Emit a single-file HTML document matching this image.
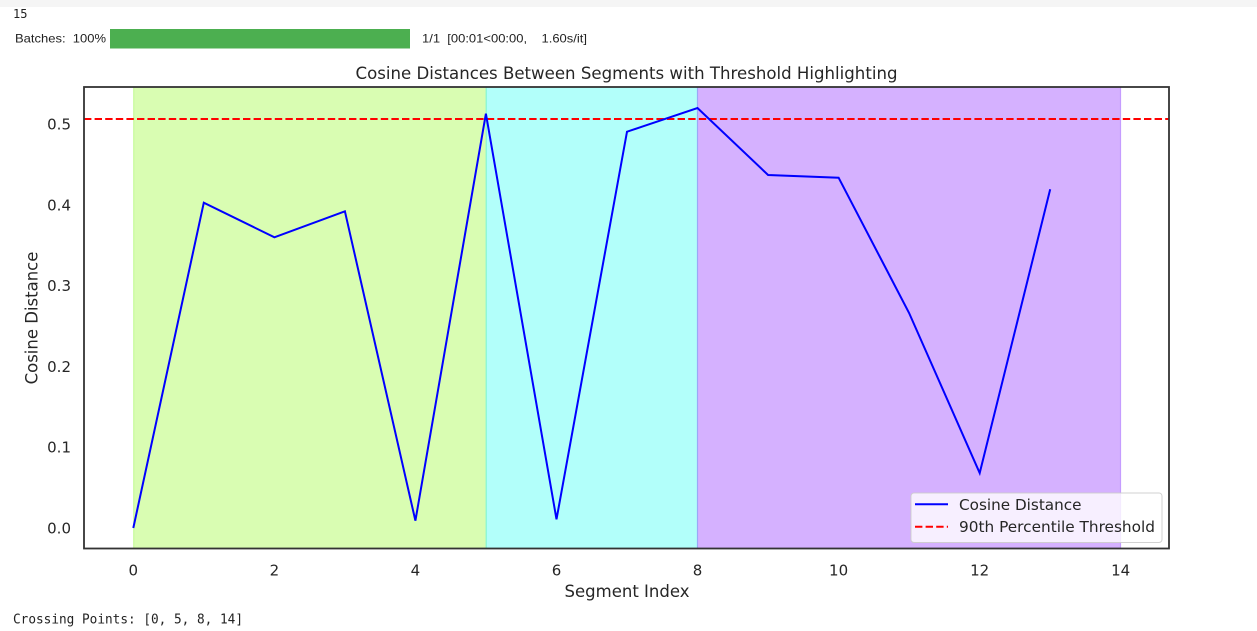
<!DOCTYPE html>
<html>
<head>
<meta charset="utf-8">
<style>
html,body{margin:0;padding:0;background:#fff;}
svg{display:block;}
text{white-space:pre;}
</style>
</head>
<body>
<svg width="1257" height="631" viewBox="0 0 1257 631" xmlns="http://www.w3.org/2000/svg">
  <rect x="0" y="0" width="1257" height="631" fill="#ffffff"/>
  <rect x="0" y="0" width="1257" height="7" fill="#f5f5f5"/>

  <!-- header output -->
  <text x="13" y="18" font-family="DejaVu Sans Mono, Liberation Mono, monospace" font-size="12" fill="#222">15</text>
  <text x="15" y="42.5" font-family="Liberation Sans, Arial, sans-serif" font-size="12" fill="#222" textLength="91" lengthAdjust="spacingAndGlyphs">Batches:  100%</text>
  <rect x="110" y="29" width="300" height="19.5" fill="#4caf50"/>
  <text x="422" y="42.5" font-family="Liberation Sans, Arial, sans-serif" font-size="12" fill="#222" textLength="165" lengthAdjust="spacingAndGlyphs">1/1  [00:01&lt;00:00,    1.60s/it]</text>

  <!-- title -->
  <text x="626.5" y="79" text-anchor="middle" font-family="DejaVu Sans, Liberation Sans, sans-serif" font-size="16.5" fill="#262626" textLength="542" lengthAdjust="spacingAndGlyphs">Cosine Distances Between Segments with Threshold Highlighting</text>

  <!-- spans -->
  <rect x="133.3" y="87" width="352.6" height="461.5" fill="#d9fdb2"/>
  <rect x="485.9" y="87" width="211.6" height="461.5" fill="#b2fffa"/>
  <rect x="697.5" y="87" width="423.2" height="461.5" fill="#d5b1ff"/>
  <line x1="133.8" y1="87" x2="133.8" y2="548.5" stroke="#c3fa95" stroke-width="1"/>
  <line x1="486.2" y1="87" x2="486.2" y2="548.5" stroke="#86f5cf" stroke-width="1.2"/>
  <line x1="697.5" y1="87" x2="697.5" y2="548.5" stroke="#9aa8f5" stroke-width="1.2"/>
  <line x1="1120.5" y1="87" x2="1120.5" y2="548.5" stroke="#c59cff" stroke-width="1.2"/>

  <!-- threshold -->
  <line x1="84" y1="119" x2="1169" y2="119" stroke="#ff0000" stroke-width="2" stroke-dasharray="7.4,3.2"/>

  <!-- data line -->
  <polyline fill="none" stroke="#0000ff" stroke-width="2" stroke-linejoin="miter" stroke-linecap="butt"
    points="133.3,528 203.8,202.7 274.4,237.3 344.9,211.3 415.4,520.7 485.9,113.7 556.5,519.3 627.0,131.7 697.5,108 768.1,175 838.6,177.7 909.1,313 979.7,473 1050.2,189.3"/>

  <!-- frame -->
  <rect x="84" y="87" width="1085" height="461.5" fill="none" stroke="#333333" stroke-width="1.8"/>

  <!-- y ticks -->
  <g font-family="DejaVu Sans, Liberation Sans, sans-serif" font-size="15" fill="#262626" text-anchor="end">
    <text x="71" y="129.5">0.5</text>
    <text x="71" y="210.3">0.4</text>
    <text x="71" y="291.1">0.3</text>
    <text x="71" y="371.9">0.2</text>
    <text x="71" y="452.7">0.1</text>
    <text x="71" y="533.5">0.0</text>
  </g>

  <!-- x ticks -->
  <g font-family="DejaVu Sans, Liberation Sans, sans-serif" font-size="15" fill="#262626" text-anchor="middle">
    <text x="133.3" y="575.5">0</text>
    <text x="274.4" y="575.5">2</text>
    <text x="415.4" y="575.5">4</text>
    <text x="556.5" y="575.5">6</text>
    <text x="697.5" y="575.5">8</text>
    <text x="838.6" y="575.5">10</text>
    <text x="979.7" y="575.5">12</text>
    <text x="1120.7" y="575.5">14</text>
  </g>

  <!-- axis labels -->
  <text x="627" y="597" text-anchor="middle" font-family="DejaVu Sans, Liberation Sans, sans-serif" font-size="16.5" fill="#262626" textLength="125" lengthAdjust="spacingAndGlyphs">Segment Index</text>
  <text transform="translate(37.5,318) rotate(-90)" x="0" y="0" text-anchor="middle" font-family="DejaVu Sans, Liberation Sans, sans-serif" font-size="16.5" fill="#262626">Cosine Distance</text>

  <!-- legend -->
  <rect x="911" y="493" width="251" height="49.5" rx="3" ry="3" fill="#ffffff" fill-opacity="0.8" stroke="#cccccc" stroke-opacity="0.9" stroke-width="1"/>
  <line x1="915" y1="504.3" x2="948" y2="504.3" stroke="#0000ff" stroke-width="2"/>
  <line x1="915" y1="526.7" x2="948" y2="526.7" stroke="#ff0000" stroke-width="2" stroke-dasharray="7.4,3.2"/>
  <g font-family="DejaVu Sans, Liberation Sans, sans-serif" font-size="15" fill="#262626">
    <text x="959" y="509.8" textLength="122.5" lengthAdjust="spacingAndGlyphs">Cosine Distance</text>
    <text x="959" y="532.2" textLength="196" lengthAdjust="spacingAndGlyphs">90th Percentile Threshold</text>
  </g>

  <!-- footer output -->
  <text x="13" y="623.5" font-family="DejaVu Sans Mono, Liberation Mono, monospace" font-size="13" fill="#222" textLength="230" lengthAdjust="spacingAndGlyphs">Crossing Points: [0, 5, 8, 14]</text>
</svg>
</body>
</html>
